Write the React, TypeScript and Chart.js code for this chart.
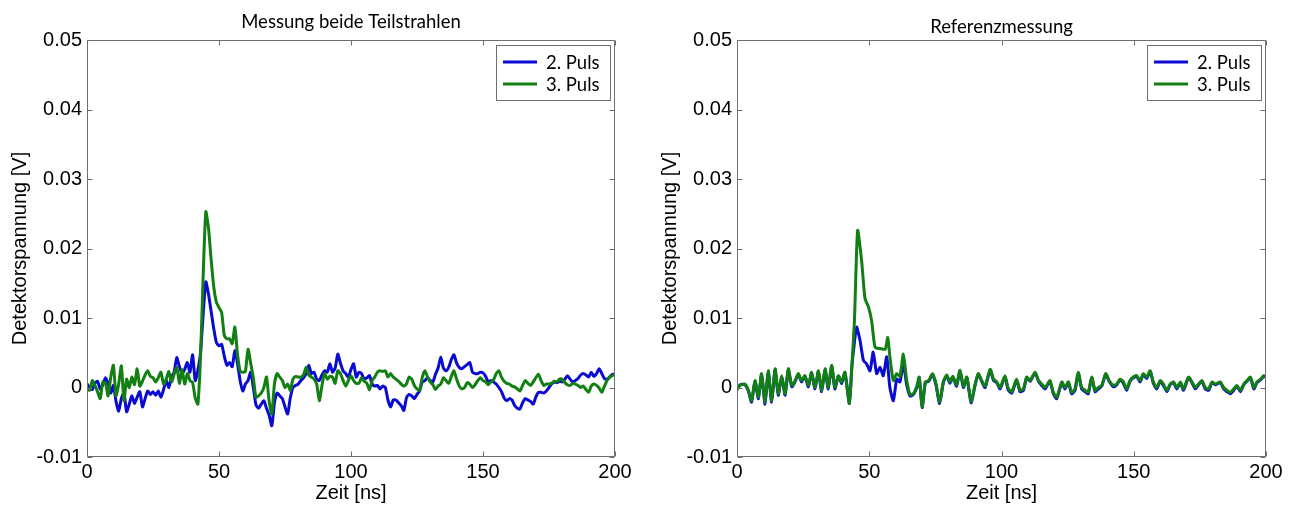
import React, { useEffect, useRef } from "react";
import { Chart, registerables } from "chart.js";

Chart.register(...registerables);

// ---------- data (values in mV) ----------
const leftTime: number[] = Array.from({ length: 201 }, (_, i) => i); // 1 ns sampling grid

const leftPuls2: number[] = [
  0.5, 0.0, -0.3, 0.6, 0.9, -0.2, 0.4, 1.4, 0.6, -0.8,
  0.3, -2.0, -3.4, -1.6, -0.8, -3.5, -2.4, -1.2, -2.3, -1.4,
  -0.6, -2.8, -1.6, -0.5, -1.0, -0.6, -1.1, -0.5, -1.4, -0.3,
  1.0, 0.0, 1.5, 2.2, 4.3, 3.0, 2.0, 2.6, 3.6, 2.2,
  4.7, 1.0, 2.5, 5.0, 10.5, 15.2, 13.5, 11.0, 8.5, 6.5,
  6.0, 6.2, 4.5, 3.2, 3.6, 3.0, 5.3, 3.5, 1.0, -0.5,
  0.5, 1.0, 2.2, 0.0, -2.5, -3.0, -2.4, -1.9, -3.0, -4.0,
  -5.5, -2.2, -0.8, -1.2, -1.6, -2.8, -3.8, -1.5, 0.0, 0.3,
  0.5, 1.0, 1.4, 2.0, 3.2, 2.0, 2.2, 1.2, 1.0, 1.8,
  2.4, 2.2, 3.4, 2.2, 2.8, 4.8, 3.5, 2.4, 2.0, 1.5,
  2.6, 3.4, 1.5, 2.2, 2.0, 1.2, 1.4, 1.7, 0.5, 0.2,
  0.3, -0.2, 0.2, 0.0, -1.8, -2.8, -1.8, -1.8, -2.2, -2.6,
  -3.3, -1.5, -1.0, -1.2, -1.6, -1.0, -0.5, 0.8, 1.0, 1.4,
  1.0, 0.8, 1.9, 2.8, 4.4, 2.8, 2.4, 2.9, 4.0, 4.7,
  3.5, 2.9, 2.7, 3.0, 3.3, 3.6, 2.2, 2.0, 2.0, 2.2,
  2.1, 1.6, 0.8, 1.0, 0.8, 0.5, 0.0, -0.6, -1.5, -1.9,
  -1.6, -1.8, -2.6, -3.0, -3.1, -2.2, -1.6, -1.8, -2.0, -2.4,
  -1.4, -0.7, -0.7, -0.8, -0.5, 0.0, 0.5, 0.8, 0.7, 0.9,
  0.8, 1.2, 1.7, 1.2, 0.8, 1.0, 1.3, 1.8, 2.0, 1.8,
  1.5, 2.2, 1.6, 2.0, 2.7, 2.0, 1.3, 1.2, 1.5, 1.9,
  1.9,
];

const leftPuls3: number[] = [
  -0.2, -0.4, 1.0, 0.3, -0.6, -1.6, 0.8, 0.6, -1.2, 1.5,
  3.2, -1.2, 0.5, 3.1, -1.9, 1.2, 0.0, 1.5, 0.4, 2.7,
  0.2, 0.9, 1.8, 2.4, 1.6, 1.4, 0.8, 1.4, 2.2, 0.5,
  1.2, 2.3, 0.8, 1.9, 2.9, 0.6, 2.6, 0.5, 2.0, 1.0,
  0.7, -1.5, -2.4, 4.4, 16.0, 25.3, 23.0, 18.5, 14.5, 12.3,
  11.5, 10.8, 7.5, 7.0, 7.0, 6.3, 8.7, 4.8, 2.4, 2.2,
  2.3, 5.5, 3.5, 1.4, -1.4, -1.2, -0.8, 0.0, 1.5, -2.0,
  -3.8, 0.5, 2.0, 1.5, 1.0, 0.0, 0.5, -0.4, 1.2, 1.6,
  1.5, 1.5, 1.8, 2.9, 1.8, 1.5, 1.2, 0.5, -1.9, 0.3,
  2.0, 1.2, 1.6, 1.5, 0.6, 2.4, 2.0, 1.0, 0.2, 1.0,
  1.7, 1.0, 0.6, 0.6, 1.4, 0.9, 0.6, -0.3, 1.0, 1.5,
  2.2, 2.4, 2.3, 2.4, 1.5, 2.0, 1.5, 1.2, 0.9, 0.5,
  0.2, 0.5, 1.5, 1.2, 0.3, -0.2, -0.4, 1.5, 2.4, 1.5,
  0.8, 0.4, -0.3, 0.2, 0.5, 1.4, 1.0, 0.6, 1.6, 2.4,
  1.2, 0.2, -0.2, 0.0, 0.7, 0.5, 0.0, 0.4, 1.0, 1.4,
  1.0, 0.8, 0.4, 0.8, 1.1, 2.0, 2.4, 1.5, 0.9, 0.6,
  0.5, 0.2, 0.1, -0.2, -0.5, 0.3, 1.0, 0.6, 0.3, 0.8,
  1.4, 1.9, 1.0, 0.3, 0.5, 0.5, 0.6, 0.9, 0.8, 1.2,
  1.2, 0.7, 0.4, 0.3, 0.6, 0.5, 0.3, 0.0, 0.2, -0.3,
  -0.7, 0.2, 0.5, 0.3, -0.1, -0.7, 0.2, 1.0, 1.5, 1.7,
  1.9,
];

// [time ns, value mV]
const rightPuls3: [number, number][] = [
  [0, -0.3], [1.2, 0.3], [3.0, 0.5], [4.3, -0.4], [5.5, -1.9], [6.8, 1.0], [8.1, -1.4], [9.3, 2.0],
  [10.6, -2.1], [11.8, 2.4], [13.1, -1.9], [14.4, 2.7], [15.6, -0.9], [16.9, 1.7], [18.2, -0.9], [19.4, 2.7],
  [20.7, 0.3], [22.0, 1.0], [23.2, 2.0], [24.4, 1.0], [25.7, 1.7], [27.0, 0.3], [28.2, 2.2], [29.5, 0.0],
  [30.8, 2.4], [32.0, -0.4], [33.3, 2.7], [34.5, 0.0], [35.8, 3.2], [37.0, 0.0], [38.3, 1.7], [39.6, 0.8],
  [40.8, 2.2], [42.5, -2.3], [43.4, 2.9], [44.4, 9.6], [45.6, 22.6], [47.1, 18.3], [48.4, 12.8], [49.7, 11.6],
  [50.9, 9.6], [52.2, 5.8], [54.1, 5.6], [56.0, 5.5], [57.0, 7.2], [57.8, 4.4], [59.1, 1.0], [60.4, 2.0],
  [61.6, 1.6], [62.9, 4.8], [64.1, 1.2], [65.4, -1.0], [66.7, -0.9], [68.0, 0.2], [68.9, 1.5], [70.0, -2.8],
  [71.2, 0.8], [72.5, 1.0], [73.9, 2.0], [75.2, 0.6], [76.6, -2.1], [78.0, 0.8], [79.3, 1.8], [80.5, 0.8],
  [81.6, 1.6], [83.0, 0.4], [84.3, 2.5], [85.6, 0.2], [86.9, 1.5], [88.5, -2.0], [90.0, 0.4], [91.2, 2.0],
  [92.5, 1.0], [93.8, 0.2], [95.7, 2.6], [97.0, 1.2], [98.2, 0.8], [99.5, 0.0], [101.3, 1.7], [102.5, -0.1],
  [103.9, -0.6], [105.7, 1.2], [107.0, -0.4], [108.3, -0.2], [109.5, 1.5], [110.8, 1.0], [112.7, 2.2], [114.0, 1.0],
  [115.2, 0.5], [116.5, 0.0], [118.3, 1.0], [119.6, -0.7], [120.9, -1.4], [122.8, 0.8], [124.0, 0.0], [125.3, 0.8],
  [126.5, -0.7], [127.8, -0.2], [129.0, 2.2], [130.3, 0.0], [131.6, -0.4], [132.8, -0.7], [134.1, 1.5], [135.4, -0.4],
  [136.6, 0.0], [137.9, 0.3], [139.4, 2.0], [140.7, 1.0], [142.3, 0.3], [143.6, 0.5], [144.8, 1.2], [146.1, 0.8],
  [147.3, -0.2], [148.6, 1.0], [149.8, 1.5], [151.1, 1.7], [152.4, 1.0], [153.6, 2.0], [154.9, 1.5], [156.2, 2.4],
  [157.4, 0.8], [158.7, 0.0], [160.0, 1.0], [161.2, 0.5], [162.5, -0.4], [163.8, 0.5], [165.0, 0.8], [166.3, 0.0],
  [167.6, 0.8], [168.8, -0.2], [170.7, 1.5], [172.0, 0.8], [173.3, 0.0], [174.5, 0.5], [175.8, 1.0], [177.0, 0.0],
  [178.3, -0.2], [179.6, 0.8], [180.8, 0.5], [182.7, 0.8], [184.0, 0.0], [185.2, -0.4], [186.5, -0.7], [187.8, -0.2],
  [189.0, 0.3], [190.3, -0.4], [191.6, 0.5], [192.8, 1.0], [194.1, 1.5], [195.4, 0.0], [196.6, 0.8], [197.9, 1.2],
  [199.2, 1.7], [200.0, 1.5],
];

const rightPuls2: [number, number][] = [
  [0, -0.3], [1.2, 0.4], [3.0, 0.4], [4.3, -0.5], [5.5, -2.1], [6.8, 0.9], [8.1, -1.6], [9.3, 1.9],
  [10.6, -2.4], [11.8, 2.3], [13.1, -2.1], [14.4, 2.6], [15.6, -1.1], [16.9, 1.6], [18.2, -1.1], [19.4, 2.6],
  [20.7, 0.1], [22.0, 0.9], [23.2, 1.9], [24.4, 0.8], [25.7, 1.6], [27.0, 0.1], [28.2, 2.1], [29.5, -0.2],
  [30.8, 2.3], [32.0, -0.6], [33.3, 2.6], [34.5, -0.2], [35.8, 3.1], [37.0, -0.2], [38.3, 1.6], [39.6, 0.6],
  [40.8, 2.1], [42.5, -2.3], [43.4, 2.9], [44.4, 6.5], [45.2, 8.7], [46.5, 6.8], [47.8, 3.9], [49.0, 3.4],
  [50.3, 2.4], [51.5, 5.1], [52.8, 2.0], [54.1, 2.9], [55.3, 1.7], [56.6, 4.4], [57.8, 0.0], [59.1, -1.9],
  [60.4, 1.2], [61.6, 0.8], [62.9, 3.5], [64.1, 0.5], [65.4, -1.2], [66.7, -1.0], [68.0, 0.0], [68.9, 1.4],
  [70.0, -2.9], [71.2, 0.7], [72.5, 0.9], [73.9, 1.9], [75.2, 0.4], [76.6, -2.3], [78.0, 0.7], [79.3, 1.7],
  [80.5, 0.6], [81.6, 1.5], [83.0, 0.2], [84.3, 2.4], [85.6, 0.0], [86.9, 1.4], [88.5, -2.2], [90.0, 0.3],
  [91.2, 1.9], [92.5, 0.9], [93.8, 0.0], [95.7, 2.5], [97.0, 1.0], [98.2, 0.7], [99.5, -0.2], [101.3, 1.6],
  [102.5, -0.3], [103.9, -0.8], [105.7, 1.1], [107.0, -0.6], [108.3, -0.4], [109.5, 1.4], [110.8, 0.9], [112.7, 2.1],
  [114.0, 0.9], [115.2, 0.3], [116.5, -0.2], [118.3, 0.9], [119.6, -0.9], [120.9, -1.6], [122.8, 0.7], [124.0, -0.2],
  [125.3, 0.7], [126.5, -0.9], [127.8, -0.4], [129.0, 2.1], [130.3, -0.2], [131.6, -0.6], [132.8, -0.9], [134.1, 1.4],
  [135.4, -0.6], [136.6, -0.2], [137.9, 0.2], [139.4, 1.9], [140.7, 0.9], [142.3, 0.1], [143.6, 0.4], [144.8, 1.1],
  [146.1, 0.6], [147.3, -0.4], [148.6, 0.9], [149.8, 1.4], [151.1, 1.6], [152.4, 0.8], [153.6, 1.9], [154.9, 1.3],
  [156.2, 2.3], [157.4, 0.6], [158.7, -0.2], [160.0, 0.9], [161.2, 0.3], [162.5, -0.6], [163.8, 0.4], [165.0, 0.7],
  [166.3, -0.2], [167.6, 0.7], [168.8, -0.4], [170.7, 1.4], [172.0, 0.7], [173.3, -0.2], [174.5, 0.4], [175.8, 0.9],
  [177.0, -0.2], [178.3, -0.4], [179.6, 0.7], [180.8, 0.4], [182.7, 0.7], [184.0, -0.2], [185.2, -0.6], [186.5, -0.9],
  [187.8, -0.4], [189.0, 0.2], [190.3, -0.6], [191.6, 0.4], [192.8, 0.9], [194.1, 1.4], [195.4, -0.2], [196.6, 0.7],
  [197.9, 1.1], [199.2, 1.6], [200.0, 1.5],
];

const xTickValues: number[] = [0, 50, 100, 150, 200];
const yTickValues: number[] = [-0.01, 0, 0.01, 0.02, 0.03, 0.04, 0.05];
const seriesLabels: string[] = ["2. Puls", "3. Puls"];
const panelTitles: string[] = ["Messung beide Teilstrahlen", "Referenzmessung"];
const xAxisTitle = "Zeit [ns]";
const yAxisTitle = "Detektorspannung [V]";

const BLUE = "#0a0ad2";
const GREEN = "#127f12";
const AXIS_GRAY = "#6f6f6f";
const AXIS_FONT = { family: "'Liberation Sans', Arial, sans-serif", size: 20 };
const TEXT_FONT = "18.5px Lato, 'Open Sans', sans-serif";

// ---------- plugin: matlab-like box, inward ticks, title, legend ----------
const matlabPlugin = {
  id: "matlabBox",
  afterDraw(chart: any, _args: any, opts: any) {
    const { ctx, chartArea: a, scales } = chart;
    ctx.save();
    const L = Math.round(a.left) + 0.5;
    const R = Math.round(a.right) - 0.5;
    const T = Math.round(a.top) + 0.5;
    const B = Math.round(a.bottom) - 0.5;
    ctx.strokeStyle = AXIS_GRAY;
    ctx.lineWidth = 1;
    ctx.beginPath();
    ctx.rect(L, T, R - L, B - T);
    const tl = 5;
    scales.x.ticks.forEach((t: any) => {
      const px = Math.round(scales.x.getPixelForValue(t.value)) + 0.5;
      ctx.moveTo(px, B);
      ctx.lineTo(px, B - tl);
      ctx.moveTo(px, T);
      ctx.lineTo(px, T + tl);
    });
    scales.y.ticks.forEach((t: any) => {
      const py = Math.round(scales.y.getPixelForValue(t.value)) + 0.5;
      ctx.moveTo(L, py);
      ctx.lineTo(L + tl, py);
      ctx.moveTo(R, py);
      ctx.lineTo(R - tl, py);
    });
    ctx.stroke();

    // title
    ctx.fillStyle = "#000";
    ctx.font = TEXT_FONT;
    ctx.textAlign = "center";
    ctx.textBaseline = "middle";
    ctx.fillText(opts.title, (a.left + a.right) / 2, opts.titleY);

    // legend
    const lx = Math.round(a.right) - 119;
    const ly = Math.round(a.top) + 5;
    const lw = 114;
    const lh = 55;
    ctx.fillStyle = "#fff";
    ctx.fillRect(lx, ly, lw, lh);
    ctx.strokeStyle = AXIS_GRAY;
    ctx.lineWidth = 1;
    ctx.strokeRect(lx + 0.5, ly + 0.5, lw, lh);
    const ds = chart.data.datasets.slice().sort((p: any, q: any) => p.legendIndex - q.legendIndex);
    ds.forEach((d: any, i: number) => {
      const y = ly + 17 + i * 22;
      ctx.strokeStyle = d.borderColor;
      ctx.lineWidth = 3;
      ctx.beginPath();
      ctx.moveTo(lx + 7, y);
      ctx.lineTo(lx + 41, y);
      ctx.stroke();
      ctx.fillStyle = "#000";
      ctx.font = TEXT_FONT;
      ctx.textAlign = "left";
      ctx.textBaseline = "middle";
      ctx.fillText(d.label, lx + 50, y + 1);
    });
    ctx.restore();
  },
};

type Series = { label: string; color: string; points: { x: number; y: number }[]; legendIndex: number; order: number };

function Panel(props: { title: string; titleY: number; series: Series[]; width: number; yAxisWidth: number; rightPad: number }) {
  const ref = useRef<HTMLCanvasElement | null>(null);
  useEffect(() => {
    if (!ref.current) return;
    const setTicks = (vals: number[]) => (s: any) => {
      s.ticks = vals.map((v) => ({ value: v }));
    };
    const chart = new Chart(ref.current, {
      type: "line",
      data: {
        datasets: props.series.map((s) => ({
          label: s.label,
          data: s.points,
          borderColor: s.color,
          backgroundColor: s.color,
          borderWidth: 3,
          pointRadius: 0,
          fill: false,
          tension: 0.2,
          order: s.order,
          legendIndex: s.legendIndex,
          borderJoinStyle: "round",
          borderCapStyle: "round",
        })) as any,
      },
      options: {
        animation: false,
        responsive: false,
        devicePixelRatio: 1,
        layout: { padding: { top: 40, right: props.rightPad, left: 0, bottom: 0 } },
        plugins: {
          legend: { display: false },
          title: { display: false },
          tooltip: { enabled: false },
          matlabBox: { title: props.title, titleY: props.titleY },
        } as any,
        scales: {
          x: {
            type: "linear",
            min: 0,
            max: 200,
            afterBuildTicks: setTicks(xTickValues),
            afterFit: (s: any) => {
              s.height = 50;
            },
            grid: { display: false, drawTicks: false, tickLength: 0 },
            border: { display: false },
            ticks: { font: AXIS_FONT, color: "#000", padding: 3, maxRotation: 0, autoSkip: false },
            title: { display: true, text: xAxisTitle, font: AXIS_FONT, color: "#000", padding: { top: 0, bottom: 2 } },
          },
          y: {
            type: "linear",
            min: -0.01,
            max: 0.05,
            afterBuildTicks: setTicks(yTickValues),
            afterFit: (s: any) => {
              s.width = props.yAxisWidth;
            },
            grid: { display: false, drawTicks: false, tickLength: 0 },
            border: { display: false },
            ticks: {
              font: AXIS_FONT,
              color: "#000",
              padding: 5,
              autoSkip: false,
              callback: (v: any) => String(parseFloat(Number(v).toFixed(3))),
            },
            title: { display: true, text: yAxisTitle, font: AXIS_FONT, color: "#000", padding: { top: 8, bottom: 0 } },
          },
        },
      } as any,
      plugins: [matlabPlugin as any],
    });
    return () => chart.destroy();
  }, []);
  return <canvas ref={ref} width={props.width} height={507} style={{ display: "block" }} />;
}

const toV = (mv: number) => mv / 1000;

export default function App() {
  const leftSeries: Series[] = [
    { label: seriesLabels[0], color: BLUE, legendIndex: 0, order: 1, points: leftTime.map((t, i) => ({ x: t, y: toV(leftPuls2[i]) })) },
    { label: seriesLabels[1], color: GREEN, legendIndex: 1, order: 0, points: leftTime.map((t, i) => ({ x: t, y: toV(leftPuls3[i]) })) },
  ];
  const rightSeries: Series[] = [
    { label: seriesLabels[0], color: BLUE, legendIndex: 0, order: 1, points: rightPuls2.map(([t, v]) => ({ x: t, y: toV(v) })) },
    { label: seriesLabels[1], color: GREEN, legendIndex: 1, order: 0, points: rightPuls3.map(([t, v]) => ({ x: t, y: toV(v) })) },
  ];
  return (
    <div style={{ position: "fixed", left: 0, top: 0, width: 1299, height: 507, background: "#fff", display: "flex" }}>
      <Panel title={panelTitles[0]} titleY={22} series={leftSeries} width={650} yAxisWidth={87} rightPad={35} />
      <Panel title={panelTitles[1]} titleY={27} series={rightSeries} width={649} yAxisWidth={87} rightPad={33} />
    </div>
  );
}
